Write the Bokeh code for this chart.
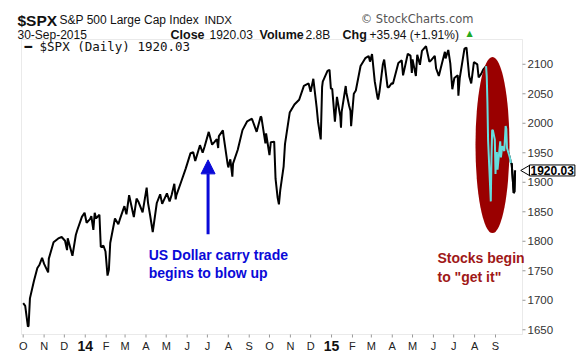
import math
import pandas as pd
from bokeh.plotting import figure
from bokeh.models import (Range1d, Label, Arrow, NormalHead, ColumnDataSource, BoxAnnotation)
from bokeh.core.properties import value
from bokeh.embed import file_html
from bokeh.resources import INLINE

# ---------------- data (S&P 500 daily closes) ----------------
dates = [
    "2013-10-01", "2013-10-04", "2013-10-08", "2013-10-09", "2013-10-11", "2013-10-17",
    "2013-10-22", "2013-10-25", "2013-10-29", "2013-11-01", "2013-11-07", "2013-11-08",
    "2013-11-15", "2013-11-22", "2013-11-27", "2013-12-02", "2013-12-05", "2013-12-06",
    "2013-12-13", "2013-12-18", "2013-12-20", "2013-12-27", "2013-12-31",
    "2014-01-03", "2014-01-08", "2014-01-10", "2014-01-13", "2014-01-15", "2014-01-17",
    "2014-01-22", "2014-01-24", "2014-01-28", "2014-01-31", "2014-02-03", "2014-02-05",
    "2014-02-07", "2014-02-14", "2014-02-19", "2014-02-21", "2014-02-28", "2014-03-03",
    "2014-03-07", "2014-03-13", "2014-03-14", "2014-03-18", "2014-03-21", "2014-03-27",
    "2014-04-02", "2014-04-04", "2014-04-07", "2014-04-11", "2014-04-17", "2014-04-22",
    "2014-04-25", "2014-05-02", "2014-05-06", "2014-05-09", "2014-05-13", "2014-05-15",
    "2014-05-16", "2014-05-23", "2014-05-30", "2014-06-06", "2014-06-10", "2014-06-13",
    "2014-06-20", "2014-06-24", "2014-06-27", "2014-07-03", "2014-07-08", "2014-07-11",
    "2014-07-15", "2014-07-17", "2014-07-18", "2014-07-24", "2014-07-25", "2014-07-31",
    "2014-08-01", "2014-08-04", "2014-08-07", "2014-08-08", "2014-08-15", "2014-08-22",
    "2014-08-29", "2014-09-05", "2014-09-12", "2014-09-18", "2014-09-19", "2014-09-25",
    "2014-09-26", "2014-10-01", "2014-10-03", "2014-10-08", "2014-10-10", "2014-10-13",
    "2014-10-15", "2014-10-17", "2014-10-22", "2014-10-24", "2014-10-31", "2014-11-07",
    "2014-11-14", "2014-11-21", "2014-11-28", "2014-12-01", "2014-12-05", "2014-12-10",
    "2014-12-12", "2014-12-16", "2014-12-18", "2014-12-19", "2014-12-26", "2014-12-29",
    "2014-12-31",
    "2015-01-02", "2015-01-06", "2015-01-09", "2015-01-14", "2015-01-15", "2015-01-16",
    "2015-01-22", "2015-01-23", "2015-01-27", "2015-01-29", "2015-01-30", "2015-02-03",
    "2015-02-06", "2015-02-13", "2015-02-20", "2015-02-25", "2015-02-27", "2015-03-02",
    "2015-03-06", "2015-03-10", "2015-03-11", "2015-03-13", "2015-03-18", "2015-03-20",
    "2015-03-25", "2015-03-27", "2015-03-31", "2015-04-02", "2015-04-10", "2015-04-15",
    "2015-04-17", "2015-04-24", "2015-04-28", "2015-04-30", "2015-05-01", "2015-05-06",
    "2015-05-08", "2015-05-12", "2015-05-15", "2015-05-21", "2015-05-26", "2015-05-29",
    "2015-06-03", "2015-06-05", "2015-06-09", "2015-06-12", "2015-06-18", "2015-06-19",
    "2015-06-23", "2015-06-26", "2015-06-29", "2015-07-02", "2015-07-07", "2015-07-08",
    "2015-07-10", "2015-07-17", "2015-07-20", "2015-07-24", "2015-07-27", "2015-07-31",
    "2015-08-05", "2015-08-07", "2015-08-11", "2015-08-14", "2015-08-18", "2015-08-19",
    "2015-08-20", "2015-08-21", "2015-08-24", "2015-08-25", "2015-08-26", "2015-08-27",
    "2015-08-28", "2015-08-31", "2015-09-01", "2015-09-02", "2015-09-03", "2015-09-04",
    "2015-09-08", "2015-09-09", "2015-09-11", "2015-09-14", "2015-09-16", "2015-09-17",
    "2015-09-18", "2015-09-22", "2015-09-24", "2015-09-25", "2015-09-28", "2015-09-29",
    "2015-09-30",
]
closes = [
    1695.0, 1690.5, 1655.5, 1656.4, 1703.2, 1733.2,
    1754.7, 1759.8, 1772.0, 1761.6, 1747.2, 1770.6,
    1798.2, 1804.8, 1807.2, 1800.9, 1785.0, 1805.1,
    1775.3, 1810.7, 1818.3, 1841.4, 1848.4,
    1831.4, 1837.5, 1842.4, 1819.2, 1848.4, 1838.7,
    1844.9, 1790.3, 1792.5, 1782.6, 1741.9, 1751.6,
    1797.0, 1838.6, 1828.8, 1836.2, 1859.5, 1845.7,
    1878.0, 1846.3, 1841.1, 1872.3, 1866.5, 1849.0,
    1890.9, 1865.1, 1845.0, 1815.7, 1864.9, 1879.6,
    1863.4, 1881.1, 1867.7, 1878.5, 1897.5, 1870.9,
    1877.9, 1900.5, 1923.6, 1949.4, 1950.8, 1936.2,
    1962.9, 1950.0, 1961.0, 1985.4, 1963.7, 1967.6,
    1973.3, 1958.1, 1978.2, 1988.0, 1978.3, 1930.7,
    1925.2, 1939.0, 1909.6, 1931.6, 1955.1, 1988.4,
    2003.4, 2007.7, 1985.5, 2011.4, 2010.4, 1966.0,
    1982.9, 1946.2, 1967.9, 1968.9, 1906.1, 1874.7,
    1862.5, 1886.8, 1927.1, 1964.6, 2018.1, 2031.9,
    2039.8, 2063.5, 2067.6, 2053.4, 2075.4, 2026.1,
    2002.3, 1972.7, 2061.2, 2070.7, 2088.8, 2090.6,
    2058.9,
    2058.2, 2002.6, 2044.8, 2011.3, 1992.7, 2019.4,
    2063.2, 2051.8, 2029.6, 2021.3, 1995.0, 2050.0,
    2055.5, 2097.0, 2110.3, 2113.9, 2104.5, 2117.4,
    2071.3, 2044.2, 2040.2, 2053.4, 2099.5, 2108.1,
    2061.1, 2061.0, 2067.9, 2067.0, 2102.1, 2106.6,
    2081.2, 2117.7, 2114.8, 2085.5, 2108.3, 2080.2,
    2116.1, 2099.1, 2122.7, 2130.8, 2104.2, 2107.4,
    2114.1, 2092.8, 2080.2, 2094.1, 2121.2, 2110.0,
    2124.2, 2101.5, 2057.6, 2076.8, 2081.3, 2046.7,
    2076.6, 2126.6, 2128.3, 2079.7, 2067.6, 2103.8,
    2099.8, 2077.6, 2084.1, 2091.5, 2096.9, 2079.6,
    2035.7, 1970.9, 1893.2, 1867.6, 1940.5, 1987.7,
    1988.9, 1972.2, 1913.9, 1948.9, 1951.1, 1921.2,
    1969.4, 1942.0, 1961.1, 1953.0, 1995.3, 1990.2,
    1958.0, 1942.7, 1932.2, 1931.3, 1881.8, 1884.1,
    1920.03,
]
y_ticks = [1650, 1700, 1750, 1800, 1850, 1900, 1950, 2000, 2050, 2100]
y_tick_labels = ["1650", "1700", "1750", "1800", "1850", "1900", "1950", "2000", "2050", "2100"]
x_tick_dates = [
    "2013-10-01", "2013-11-01", "2013-12-01", "2014-01-01", "2014-02-01", "2014-03-01",
    "2014-04-01", "2014-05-01", "2014-06-01", "2014-07-01", "2014-08-01", "2014-09-01",
    "2014-10-01", "2014-11-01", "2014-12-01", "2015-01-01", "2015-02-01", "2015-03-01",
    "2015-04-01", "2015-05-01", "2015-06-01", "2015-07-01", "2015-08-01", "2015-09-01",
]
x_tick_labels = ["O", "N", "D", "14", "F", "M", "A", "M", "J", "J", "A", "S",
                 "O", "N", "D", "15", "F", "M", "A", "M", "J", "J", "A", "S"]
highlight_start, highlight_end = "2015-08-18", "2015-09-24"
last_close = 1920.03
x_view = ("2013-09-28 12:00", "2015-10-11")   # visible date span of the price box
y_view = (1642, 2142)                          # visible price span of the price box


def ms(d):
    return pd.Timestamp(d).value // 10**6


df = pd.DataFrame({"date": pd.to_datetime(dates), "close": closes})
src_all = ColumnDataSource(df)
hl = df[(df.date >= highlight_start) & (df.date <= highlight_end)]
tail = df[df.date >= highlight_end]

# ---------------- geometry (page pixels) ----------------
W, H = 576, 356
FL, FT, FR, FB = 21, 39, 522, 334      # price box edges
FONT = "Liberation Sans"

x0, x1 = ms(x_view[0]), ms(x_view[1])
xs = (x1 - x0) / (FR - FL)              # ms per pixel
y0, y1 = y_view
ys = (y1 - y0) / (FB - FT)              # price per pixel


def px_x(X):
    return x0 + (X - FL) * xs


def px_y(Y):
    return y0 + (FB - Y) * ys


p = figure(width=W, height=H, output_backend="svg", toolbar_location=None,
           x_range=Range1d(px_x(0), px_x(W)), y_range=Range1d(px_y(H), px_y(0)),
           x_axis_location=None, y_axis_location=None, min_border=0)
p.grid.visible = False
p.outline_line_color = None
p.background_fill_color = "white"
p.border_fill_color = "white"

# price box
p.add_layout(BoxAnnotation(left=x0, right=x1, bottom=y0, top=y1, fill_alpha=0,
                           line_color="#b8b8b8", line_width=1, level="underlay"))

# series
p.line("date", "close", source=src_all, line_color="black", line_width=2)
p.ellipse(x=[ms("2015-08-27 12:00")], y=[1963], width=34, height=176,
          width_units="screen", height_units="screen",
          fill_color="#9a0000", line_color=None)
p.line(hl.date, hl.close, line_color="#66dede", line_width=2)
p.line(tail.date, tail.close, line_color="black", line_width=2)

# date scale (below the box)
tx = [ms(d) for d in x_tick_dates]
p.segment(x0=tx, y0=[y0] * len(tx), x1=tx, y1=[px_y(FB + 3)] * len(tx),
          line_color="#999999", line_width=1)
m_x = [ms(d) for d, t in zip(x_tick_dates, x_tick_labels) if not t.isdigit()]
m_t = [t for t in x_tick_labels if not t.isdigit()]
yr_x = [ms(d) for d, t in zip(x_tick_dates, x_tick_labels) if t.isdigit()]
yr_t = [t for t in x_tick_labels if t.isdigit()]
p.text(x=m_x, y=[px_y(345)] * len(m_x), text=m_t, text_font=value(FONT),
       text_font_size=value("11px"), text_color="#222222",
       text_align="center", text_baseline="middle")
p.text(x=yr_x, y=[px_y(345)] * len(yr_x), text=yr_t, text_font=value(FONT),
       text_font_size=value("14px"), text_font_style="bold", text_color="#111111",
       text_align="center", text_baseline="middle")

# price scale (right of the box)
p.segment(x0=[x1] * len(y_ticks), y0=y_ticks, x1=[px_x(FR + 3)] * len(y_ticks), y1=y_ticks,
          line_color="#999999", line_width=1)
p.text(x=[px_x(FR + 5)] * len(y_ticks), y=y_ticks, text=y_tick_labels,
       text_font=value(FONT), text_font_size=value("11.5px"), text_color="#333333",
       text_align="left", text_baseline="middle")

# last value tag
p.scatter(x=[px_x(FR + 4)], y=[last_close], marker="triangle", angle=math.pi / 2, size=10,
          fill_color="white", line_color="black", line_width=1)
p.add_layout(Label(x=FR + 7, y=last_close, x_units="screen", text="1920.03",
                   text_font=FONT, text_font_style="bold", text_font_size="12px",
                   text_color="black", text_baseline="middle",
                   background_fill_color="white", border_line_color="black",
                   border_line_width=1, padding=1))


# header texts (page pixel positions, baseline)
def hdr(text, X, Y, size, bold=False, color="#111111", font=FONT, align="left",
        baseline="alphabetic"):
    p.add_layout(Label(x=X, y=H - Y, x_units="screen", y_units="screen", text=text,
                       text_font=font, text_font_size=size,
                       text_font_style="bold" if bold else "normal",
                       text_color=color, text_baseline=baseline, text_align=align))


hdr("$SPX", 17, 19.5, "15.5px", bold=True)
hdr("S&P 500 Large Cap Index", 59, 19.5, "12px")
hdr("INDX", 204, 19.5, "11.5px")
hdr("\u00a9 StockCharts.com", 473, 18.5, "11.5px", color="#555555", font="DejaVu Sans", align="right")
hdr("30-Sep-2015", 17, 34, "12px")
hdr("Close", 170, 34, "12.5px", bold=True)
hdr("1920.03", 209, 34, "12px")
hdr("Volume", 259, 34, "12.5px", bold=True)
hdr("2.8B", 305, 34, "12px")
hdr("Chg", 342, 34, "12.5px", bold=True)
hdr("+35.94 (+1.91%)", 369, 34, "12px")
hdr("\u25b2", 466, 33, "8px", color="#22aa22", font="DejaVu Sans")

# legend line
hdr("\u2501 $SPX (Daily) 1920.03", 24, 46, "12.5px", font="DejaVu Sans Mono",
    baseline="middle")

# annotations
arrow_x = ms("2014-07-02")
p.add_layout(Arrow(end=NormalHead(size=14, fill_color="#0a0ad8", line_color="#0a0ad8"),
                   x_start=arrow_x, y_start=1812, x_end=arrow_x, y_end=1938,
                   line_color="#0a0ad8", line_width=3))


def note(text, d, v, color, size="14px"):
    p.add_layout(Label(x=ms(d), y=v, text=text, text_font=FONT,
                       text_font_style="bold", text_font_size=size, text_color=color,
                       text_baseline="middle", text_align="left"))


note("US Dollar carry trade", "2014-04-05", 1776, "#0a0ad8")
note("begins to blow up", "2014-04-05", 1745.5, "#0a0ad8")
note("Stocks begin", "2015-06-07", 1771, "#a01818")
note('to "get it"', "2015-06-07", 1739, "#a01818")

open("out.html", "w").write(file_html(p, INLINE))
